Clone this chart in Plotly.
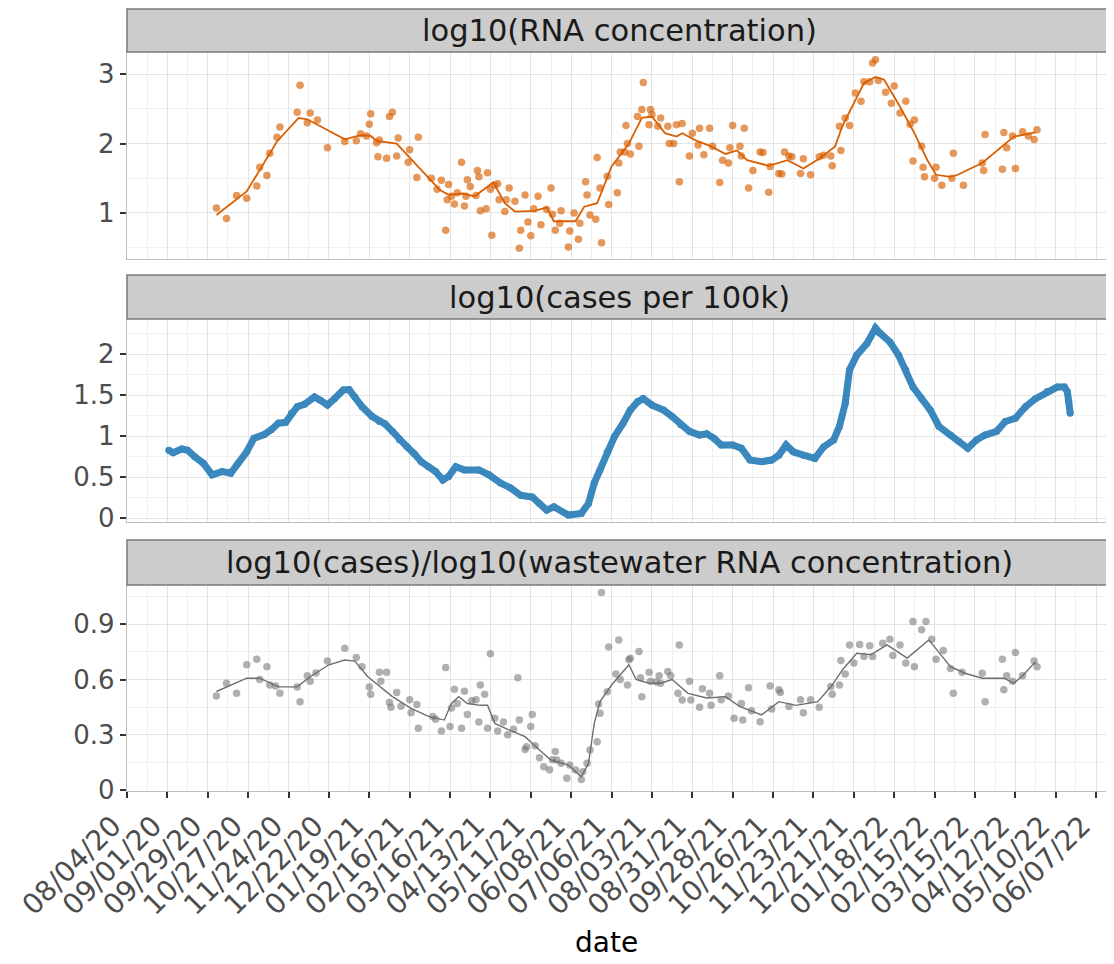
import pandas as pd
import plotly.graph_objects as go

# ---------------- data (days counted from ORIGIN) ----------------
ORIGIN = "2020-08-04"

tick_labels = ["08/04/20", "09/01/20", "09/29/20", "10/27/20", "11/24/20", "12/22/20",
               "01/19/21", "02/16/21", "03/16/21", "04/13/21", "05/11/21", "06/08/21",
               "07/06/21", "08/03/21", "08/31/21", "09/28/21", "10/26/21", "11/23/21",
               "12/21/21", "01/18/22", "02/15/22", "03/15/22", "04/12/22", "05/10/22",
               "06/07/22"]

panel_titles = ["log10(RNA concentration)",
                "log10(cases per 100k)",
                "log10(cases)/log10(wastewater RNA concentration)"]

rna_day = [62, 69, 76, 83, 90, 92, 97, 99, 104, 106, 118, 120, 125, 127, 132, 139, 151, 159,
           162, 166, 168, 169, 173, 174, 175, 180, 182, 184, 187, 188, 195, 196, 201, 202,
           211, 215, 218, 221, 222, 223, 225, 227, 229, 232, 234, 235, 236, 238, 242, 243,
           244, 245, 249, 250, 252, 253, 255, 257, 258, 262, 263, 265, 269, 272, 273, 276,
           278, 280, 282, 285, 287, 291, 294, 295, 297, 300, 301, 306, 307, 310, 313, 314,
           318, 319, 321, 325, 326, 328, 329, 333, 334, 340, 341, 342, 345, 346, 347, 349,
           354, 355, 357, 358, 362, 363, 364, 368, 370, 375, 376, 379, 381, 383, 385, 390,
           392, 396, 397, 400, 404, 406, 411, 413, 417, 418, 420, 425, 426, 428, 431, 434,
           439, 441, 445, 446, 452, 454, 456, 459, 461, 467, 469, 474, 480, 483, 488, 489,
           494, 495, 498, 501, 505, 509, 511, 515, 517, 519, 521, 526, 530, 532, 536, 540,
           543, 545, 546, 551, 552, 553, 560, 561, 565, 572, 573, 580, 593, 594, 595, 607,
           608, 610, 614, 616, 621, 625, 629, 631]
rna_val = [1.07, 0.92, 1.25, 1.21, 1.39, 1.66, 1.54, 1.86, 2.09, 2.24, 2.45, 2.84, 2.30, 2.44,
           2.34, 1.94, 2.03, 2.04, 2.14, 2.11, 2.28, 2.43, 2.01, 1.81, 2.05, 1.79, 2.39, 2.45,
           1.82, 2.08, 1.73, 1.91, 1.51, 2.09, 1.50, 1.34, 1.47, 0.75, 1.19, 1.41, 1.24, 1.13,
           1.29, 1.73, 1.10, 1.24, 1.48, 1.38, 1.25, 1.61, 1.52, 1.03, 1.06, 1.58, 1.34, 0.68,
           1.40, 1.42, 1.19, 1.02, 1.19, 1.36, 1.17, 0.49, 0.75, 1.26, 0.87, 0.67, 1.06, 1.24,
           0.83, 1.05, 1.36, 0.98, 0.75, 0.85, 1.03, 0.51, 0.74, 1.00, 0.62, 0.85, 1.45, 1.26,
           0.97, 0.91, 1.80, 1.36, 0.57, 1.53, 1.12, 1.29, 1.72, 1.88, 1.88, 2.26, 2.00, 1.85,
           2.39, 1.96, 2.49, 2.88, 2.27, 2.49, 2.42, 2.25, 2.37, 2.25, 2.00, 2.00, 2.27, 1.45,
           2.29, 1.82, 2.15, 1.98, 2.22, 1.84, 2.22, 1.96, 1.44, 1.76, 1.72, 1.94, 2.26, 1.96,
           1.82, 2.22, 1.36, 1.61, 1.88, 1.87, 1.30, 1.67, 1.57, 1.56, 1.88, 1.82, 1.81, 1.57,
           1.78, 1.55, 1.81, 1.83, 1.82, 1.68, 2.25, 1.90, 2.37, 2.26, 2.73, 2.61, 2.89, 2.89,
           3.16, 3.21, 2.91, 2.74, 2.58, 2.83, 2.44, 2.61, 2.28, 1.75, 2.34, 1.96, 1.66, 1.52,
           1.50, 1.66, 1.40, 1.50, 1.86, 1.40, 1.72, 1.61, 2.13, 1.63, 2.16, 1.94, 2.11, 1.64,
           2.17, 2.11, 2.06, 2.20]

rna_smooth_day = [62, 83, 104, 119, 125, 151, 162, 169, 173, 187, 217, 223, 233, 241, 254, 262,
                  269, 283, 291, 296, 311, 317, 326, 336, 348, 357, 364, 373, 381, 385, 394,
                  405, 415, 423, 430, 445, 458, 469, 480, 491, 496, 504, 511, 519, 525, 536,
                  546, 555, 561, 571, 576, 593, 615, 630]
rna_smooth_val = [0.97, 1.31, 2.03, 2.37, 2.35, 2.06, 2.12, 2.11, 2.04, 2.00, 1.33, 1.26, 1.28,
                  1.24, 1.44, 1.14, 1.02, 1.03, 1.08, 0.88, 0.88, 1.09, 1.14, 1.67, 2.00, 2.37,
                  2.39, 2.15, 2.10, 2.15, 2.05, 1.96, 1.85, 1.90, 1.76, 1.68, 1.76, 1.64, 1.78,
                  1.96, 2.25, 2.58, 2.87, 2.96, 2.92, 2.53, 2.15, 1.76, 1.55, 1.52, 1.55, 1.72,
                  2.10, 2.16]

cases_day = [29, 32, 38, 42, 47, 53, 59, 66, 72, 77, 83, 88, 95, 100, 105, 110, 114, 118, 123,
             130, 134, 139, 144, 150, 154, 158, 163, 170, 175, 179, 184, 189, 194, 199, 204, 209,
             214, 219, 223, 228, 234, 244, 251, 259, 266, 273, 281, 286, 291, 296, 306, 315,
             320, 324, 328, 333, 338, 344, 349, 354, 358, 364, 372, 378, 384, 390, 397, 402,
             407, 412, 420, 426, 432, 440, 447, 452, 457, 462, 469, 477, 483, 490, 494, 498,
             501, 506, 513, 519, 522, 529, 535, 540, 545, 551, 557, 563, 571, 577, 583, 589,
             595, 603, 609, 616, 623, 630, 638, 645, 650, 652, 653, 654]
cases_val = [0.83, 0.80, 0.845, 0.83, 0.75, 0.67, 0.53, 0.57, 0.55, 0.67, 0.81, 0.975, 1.02,
             1.08, 1.16, 1.17, 1.28, 1.36, 1.39, 1.48, 1.44, 1.38, 1.46, 1.565, 1.57, 1.48,
             1.36, 1.24, 1.18, 1.15, 1.06, 0.955, 0.875, 0.79, 0.69, 0.63, 0.57, 0.467, 0.51,
             0.63, 0.59, 0.59, 0.53, 0.43, 0.37, 0.28, 0.26, 0.18, 0.10, 0.14, 0.04, 0.06,
             0.18, 0.43, 0.59, 0.81, 0.995, 1.16, 1.32, 1.42, 1.46, 1.38, 1.32, 1.24, 1.14,
             1.06, 1.015, 1.03, 0.975, 0.895, 0.895, 0.855, 0.71, 0.69, 0.71, 0.77, 0.895,
             0.81, 0.77, 0.73, 0.87, 0.955, 1.12, 1.40, 1.81, 1.99, 2.13, 2.32, 2.26, 2.15,
             1.99, 1.81, 1.60, 1.46, 1.32, 1.12, 1.015, 0.935, 0.855, 0.955, 1.015, 1.06,
             1.18, 1.22, 1.36, 1.46, 1.545, 1.60, 1.60, 1.545, 1.42, 1.28]

ratio_day = [62, 69, 76, 83, 90, 92, 97, 99, 103, 106, 118, 120, 125, 127, 131, 139, 151, 159,
             163, 168, 169, 175, 176, 180, 182, 183, 187, 190, 196, 197, 201, 202, 212, 214,
             218, 221, 224, 225, 227, 229, 232, 234, 236, 239, 242, 244, 245, 248, 250, 252,
             255, 257, 261, 264, 268, 271, 272, 276, 277, 280, 281, 283, 286, 289, 293, 295,
             297, 298, 301, 305, 307, 311, 315, 316, 319, 321, 326, 327, 328, 329, 333, 334,
             339, 341, 342, 347, 348, 349, 355, 356, 357, 362, 363, 367, 369, 370, 375, 377,
             382, 383, 385, 390, 391, 397, 399, 404, 405, 411, 412, 417, 421, 426, 427, 431,
             433, 439, 446, 447, 452, 453, 459, 467, 469, 474, 480, 488, 489, 494, 495, 498,
             501, 504, 508, 511, 515, 517, 524, 529, 531, 536, 540, 545, 546, 551, 554, 558,
             561, 566, 571, 573, 579, 593, 595, 607, 608, 610, 614, 616, 621, 629, 631]
ratio_val = [0.51, 0.58, 0.525, 0.68, 0.71, 0.60, 0.67, 0.57, 0.565, 0.525, 0.56, 0.48, 0.62,
             0.59, 0.635, 0.70, 0.77, 0.72, 0.67, 0.56, 0.52, 0.64, 0.59, 0.64, 0.475, 0.45,
             0.53, 0.455, 0.49, 0.42, 0.465, 0.335, 0.40, 0.385, 0.32, 0.665, 0.345, 0.445,
             0.547, 0.47, 0.335, 0.536, 0.41, 0.485, 0.49, 0.37, 0.57, 0.52, 0.335, 0.74,
             0.39, 0.32, 0.37, 0.30, 0.33, 0.61, 0.38, 0.22, 0.235, 0.345, 0.41, 0.24, 0.175,
             0.127, 0.11, 0.165, 0.21, 0.163, 0.145, 0.064, 0.136, 0.109, 0.058, 0.10, 0.145,
             0.217, 0.262, 0.467, 0.417, 1.072, 0.534, 0.776, 0.63, 0.815, 0.60, 0.57, 0.707,
             0.715, 0.752, 0.61, 0.507, 0.64, 0.59, 0.587, 0.62, 0.58, 0.643, 0.62, 0.525,
             0.788, 0.489, 0.59, 0.489, 0.45, 0.55, 0.525, 0.46, 0.62, 0.49, 0.51, 0.39, 0.47,
             0.38, 0.556, 0.43, 0.371, 0.565, 0.44, 0.545, 0.53, 0.453, 0.49, 0.42, 0.49, 0.45,
             0.562, 0.52, 0.57, 0.703, 0.63, 0.788, 0.69, 0.79, 0.725, 0.783, 0.725, 0.797,
             0.819, 0.73, 0.788, 0.69, 0.915, 0.67, 0.87, 0.915, 0.819, 0.71, 0.757, 0.66,
             0.525, 0.64, 0.634, 0.48, 0.71, 0.544, 0.62, 0.59, 0.746, 0.62, 0.70, 0.67]

ratio_smooth_day = [62, 83, 92, 105, 118, 127, 140, 151, 158, 167, 184, 197, 209, 220, 225,
                    230, 236, 245, 250, 255, 264, 276, 286, 294, 306, 315, 320, 324, 328, 336,
                    348, 353, 362, 370, 378, 389, 402, 415, 425, 440, 452, 464, 479, 489, 496,
                    506, 516, 527, 541, 556, 571, 581, 593, 608, 615, 621, 630]
ratio_smooth_val = [0.535, 0.607, 0.607, 0.56, 0.56, 0.615, 0.68, 0.706, 0.70, 0.615, 0.507,
                    0.444, 0.40, 0.38, 0.47, 0.507, 0.47, 0.46, 0.46, 0.362, 0.33, 0.29, 0.217,
                    0.163, 0.136, 0.072, 0.145, 0.362, 0.48, 0.57, 0.68, 0.60, 0.58, 0.58, 0.60,
                    0.525, 0.50, 0.507, 0.453, 0.408, 0.48, 0.46, 0.48, 0.57, 0.652, 0.743, 0.735,
                    0.788, 0.716, 0.815, 0.67, 0.634, 0.607, 0.607, 0.58, 0.62, 0.697]

x_range = ["2020-08-04", "2022-06-18"]
y_ranges = [[0.336, 3.32], [-0.045, 2.43], [-0.005, 1.113]]
y_ticks = [[1, 2, 3], [0, 0.5, 1, 1.5, 2], [0, 0.3, 0.6, 0.9]]
y_ticktext = [["1", "2", "3"], ["0", "0.5", "1", "1.5", "2"], ["0", "0.3", "0.6", "0.9"]]
y_minor_dtick = [0.5, 0.25, 0.15]


def to_date(days):
    return pd.Timestamp(ORIGIN) + pd.to_timedelta(days, unit="D")


ORANGE = "#d95f02"
BLUE = "#1f78b4"
GREY = "#707070"
FONT = "DejaVu Sans"

fig = go.Figure()

# panel 1
fig.add_trace(go.Scatter(x=to_date(rna_day), y=rna_val, mode="markers",
                         marker=dict(size=7.5, color=ORANGE, opacity=0.65),
                         xaxis="x", yaxis="y", showlegend=False))
fig.add_trace(go.Scatter(x=to_date(rna_smooth_day), y=rna_smooth_val, mode="lines",
                         line=dict(color=ORANGE, width=1.8),
                         xaxis="x", yaxis="y", showlegend=False))
# panel 2
fig.add_trace(go.Scatter(x=to_date(cases_day), y=cases_val, mode="lines+markers",
                         line=dict(color=BLUE, width=7),
                         marker=dict(size=7, color=BLUE),
                         opacity=0.88, xaxis="x2", yaxis="y2", showlegend=False))
# panel 3
fig.add_trace(go.Scatter(x=to_date(ratio_day), y=ratio_val, mode="markers",
                         marker=dict(size=7.5, color=GREY, opacity=0.55),
                         xaxis="x3", yaxis="y3", showlegend=False))
fig.add_trace(go.Scatter(x=to_date(ratio_smooth_day), y=ratio_smooth_val, mode="lines",
                         line=dict(color="#6e6e6e", width=1.4),
                         xaxis="x3", yaxis="y3", showlegend=False))

# page has an 8px body margin: the figure is drawn offset by OFF pixels
OFF = 8
FIG_W, FIG_H = 1114 - OFF, 964 - OFF
PANEL_LEFT, PANEL_RIGHT = 127, 1112          # screen px
PANEL_TOP, PANEL_BOTTOM = 9, 791             # screen px (top strip .. bottom panel)
L_M = PANEL_LEFT - OFF
R_M = FIG_W - (PANEL_RIGHT - OFF)
T_M = PANEL_TOP - OFF
B_M = FIG_H - (PANEL_BOTTOM - OFF)
PLOT_H = FIG_H - T_M - B_M
PLOT_W = FIG_W - L_M - R_M


def py(px):
    return (PANEL_BOTTOM - px) / PLOT_H


def pxx(px):
    return (px - PANEL_LEFT) / PLOT_W


plot_px = [(52, 259), (319, 522), (585, 791)]
strip_px = [(9, 52), (275, 319), (540, 585)]

tickvals = pd.to_datetime(tick_labels, format="%m/%d/%y")

grid_major = "#e3e3e3"
grid_minor = "#f0f0f0"
axis_line = "#bdbdbd"

layout = dict(
    width=FIG_W, height=FIG_H,
    margin=dict(l=L_M, r=R_M, t=T_M, b=B_M, autoexpand=False),
    paper_bgcolor="white", plot_bgcolor="white",
    font=dict(family=FONT, color="#4d4d4d", size=26),
    showlegend=False,
)

for i in range(3):
    xa = "xaxis" if i == 0 else f"xaxis{i+1}"
    ya = "yaxis" if i == 0 else f"yaxis{i+1}"
    yid = "y" if i == 0 else f"y{i+1}"
    xid = "x" if i == 0 else f"x{i+1}"
    top, bot = plot_px[i]
    layout[xa] = dict(
        domain=[0, 1], anchor=yid, range=x_range, type="date",
        tickvals=tickvals, ticktext=tick_labels,
        showticklabels=(i == 2), ticks="outside" if i == 2 else "",
        ticklen=6, tickwidth=1.5, tickcolor="#333333",
        tickangle=-45, tickfont=dict(size=28, color="#4d4d4d", family=FONT),
        ticklabelshift=-14, ticklabelstandoff=0,
        showgrid=True, gridcolor=grid_major, gridwidth=1.3,
        minor=dict(showgrid=True, gridcolor=grid_minor, gridwidth=0.7,
                   tick0=ORIGIN, dtick=14 * 86400000),
        showline=True, linecolor=axis_line, linewidth=1.3, mirror=True,
        zeroline=False, automargin=False,
    )
    if i > 0:
        layout[xa]["matches"] = "x"
    layout[ya] = dict(
        domain=[py(bot), py(top)], anchor=xid, range=y_ranges[i],
        tickvals=y_ticks[i], ticktext=y_ticktext[i],
        ticks="outside", ticklen=6, tickwidth=1.5, tickcolor="#333333",
        tickfont=dict(size=26, color="#4d4d4d", family=FONT),
        showgrid=True, gridcolor=grid_major, gridwidth=1.3,
        minor=dict(showgrid=True, gridcolor=grid_minor, gridwidth=0.7,
                   tick0=0, dtick=y_minor_dtick[i]),
        showline=True, linecolor=axis_line, linewidth=1.3, mirror=True,
        zeroline=False, automargin=False,
    )

shapes = []
annotations = []
for i in range(3):
    s_top, s_bot = strip_px[i]
    shapes.append(dict(type="rect", xref="paper", yref="paper", x0=0, x1=1,
                       y0=py(s_bot), y1=py(s_top), fillcolor="#cccccc",
                       line=dict(color="#7a7a7a", width=1.5), layer="above"))
    annotations.append(dict(text=panel_titles[i], xref="paper", yref="paper",
                            x=0.5, y=(py(s_bot) + py(s_top)) / 2, showarrow=False,
                            xanchor="center", yanchor="middle",
                            font=dict(size=30.5, color="#1a1a1a", family=FONT)))

annotations.append(dict(text="date", xref="paper", yref="paper", x=pxx(606), y=py(942),
                        showarrow=False, xanchor="center", yanchor="middle",
                        font=dict(size=28, color="#000000", family=FONT)))

layout["shapes"] = shapes
layout["annotations"] = annotations
fig.update_layout(**layout)

fig.write_html("out.html")
